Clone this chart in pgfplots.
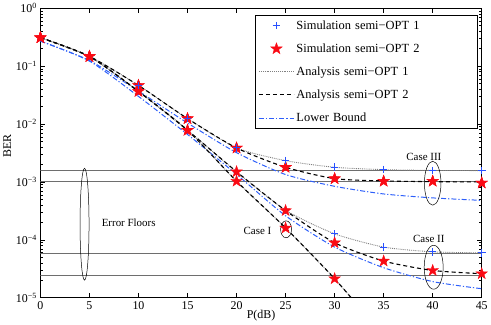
\documentclass[border=0pt]{standalone}
\usepackage{pgfplots}
\pgfplotsset{compat=1.18}
\usepackage{fontspec}
\setmainfont{Liberation Serif}

\definecolor{simblue}{RGB}{40,80,255}
\definecolor{lbblue}{RGB}{45,95,250}
\definecolor{simred}{RGB}{250,10,20}
\definecolor{floorgray}{RGB}{110,110,110}

\pgfdeclareplotmark{pstar}{%
  \pgfpathmoveto{\pgfpointpolar{90}{1.5\pgfplotmarksize}}%
  \pgfpathlineto{\pgfpointpolar{126}{0.6\pgfplotmarksize}}%
  \pgfpathlineto{\pgfpointpolar{162}{1.5\pgfplotmarksize}}%
  \pgfpathlineto{\pgfpointpolar{198}{0.6\pgfplotmarksize}}%
  \pgfpathlineto{\pgfpointpolar{234}{1.5\pgfplotmarksize}}%
  \pgfpathlineto{\pgfpointpolar{270}{0.6\pgfplotmarksize}}%
  \pgfpathlineto{\pgfpointpolar{306}{1.5\pgfplotmarksize}}%
  \pgfpathlineto{\pgfpointpolar{342}{0.6\pgfplotmarksize}}%
  \pgfpathlineto{\pgfpointpolar{18}{1.5\pgfplotmarksize}}%
  \pgfpathlineto{\pgfpointpolar{54}{0.6\pgfplotmarksize}}%
  \pgfpathclose
  \pgfusepathqfillstroke
}

\pgfplotsset{
  lineleg/.style={legend image code/.code={\draw[##1] (0bp,0bp) -- (35bp,0bp);}},
  markleg/.style={legend image code/.code={\path[draw=none] (0bp,0bp) (35bp,0bp);
      \draw[##1,#1] plot coordinates {(17.5bp,0bp)};}},
}

\begin{document}
\begin{tikzpicture}
\begin{axis}[
  scale only axis,
  width=442bp, height=290bp,
  ymode=log,
  xmin=0, xmax=45, ymin=1e-5, ymax=1,
  xtick={0,5,...,45},
  ytick={1e-5,1e-4,1e-3,1e-2,1e-1,1},
  yticklabels={10\textsuperscript{−5},10\textsuperscript{−4},10\textsuperscript{−3},10\textsuperscript{−2},10\textsuperscript{−1},10\textsuperscript{0}},
  minor ytick={2e-5,3e-5,4e-5,5e-5,6e-5,7e-5,8e-5,9e-5,
               2e-4,3e-4,4e-4,5e-4,6e-4,7e-4,8e-4,9e-4,
               2e-3,3e-3,4e-3,5e-3,6e-3,7e-3,8e-3,9e-3,
               2e-2,3e-2,4e-2,5e-2,6e-2,7e-2,8e-2,9e-2,
               0.2,0.3,0.4,0.5,0.6,0.7,0.8,0.9},
  tick align=inside,
  major tick length=5bp, minor tick length=2.5bp,
  axis line style={line width=0.6pt},
  every tick/.style={line width=0.5pt, black},
  /pgf/number format/assume math mode=true,
  tick label style={font=\fontsize{12}{14}\selectfont},
  xlabel={P(dB)}, ylabel={BER},
  label style={font=\fontsize{12}{14}\selectfont},
  xlabel style={yshift=6bp},
  ylabel style={at={(ticklabel cs:0.524)}, yshift=-2bp},
  legend style={at={(rel axis cs:0.9915,0.977)}, anchor=north east,
    font=\fontsize{12.5}{14}\selectfont, draw=black, line width=0.6pt,
    row sep=9bp, inner sep=3.5bp,
    nodes={text width=176bp, align=left, line width=0.6pt}},
  legend cell align=left,
]
% error floors
\addplot[floorgray, line width=0.9pt, forget plot] coordinates {(0,1.57e-3)(45,1.57e-3)};
\addplot[floorgray, line width=0.9pt, forget plot] coordinates {(0,1.0e-3)(45,1.0e-3)};
\addplot[floorgray, line width=0.9pt, forget plot] coordinates {(0,5.8e-5)(45,5.8e-5)};
\addplot[floorgray, line width=0.9pt, forget plot] coordinates {(0,2.4e-5)(45,2.4e-5)};

% legend entries (Case III curves)
\addplot[simblue, only marks, mark=+, mark size=3.8bp, line width=1pt, markleg=simblue]
  coordinates {(0,0.31)(5,0.147)(10,0.0464)(15,0.0124)(20,3.86e-3)(25,2.33e-3)(30,1.79e-3)(35,1.63e-3)(40,1.57e-3)(45,1.57e-3)};
\addlegendentry{Simulation semi−OPT 1}
\addplot[simred, only marks, mark=pstar, mark size=4bp, line width=0.4pt, markleg=simred]
  coordinates {(0,0.31)(5,0.147)(10,0.0464)(15,0.0124)(20,3.86e-3)(25,1.79e-3)(30,1.14e-3)(35,1.03e-3)(40,1.03e-3)(45,9.6e-4)};
\addlegendentry{Simulation semi−OPT 2}
\addplot[gray, densely dotted, line width=0.9pt, smooth, tension=0.4, lineleg]
  coordinates {(0,0.31)(5,0.147)(10,0.0464)(15,0.0124)(20,3.86e-3)(25,2.33e-3)(30,1.79e-3)(35,1.63e-3)(40,1.58e-3)(45,1.57e-3)};
\addlegendentry{Analysis semi−OPT 1}
\addplot[black, dash pattern=on 4bp off 3bp, line width=1.1pt, smooth, tension=0.4, lineleg]
  coordinates {(0,0.31)(5,0.147)(10,0.0464)(15,0.0124)(20,3.86e-3)(25,1.79e-3)(30,1.14e-3)(35,1.04e-3)(40,1.01e-3)(45,1.0e-3)};
\addlegendentry{Analysis semi−OPT 2}
\addplot[lbblue, dash pattern=on 5bp off 2bp on 1.2bp off 2bp, line width=1pt, smooth, tension=0.4, lineleg]
  coordinates {(0,0.27)(5,0.125)(10,0.037)(15,0.0104)(20,3.2e-3)(25,1.34e-3)(30,8.4e-4)(35,6.2e-4)(40,5.3e-4)(45,4.8e-4)};
\addlegendentry{Lower Bound}

% Case II curves
\addplot[gray, densely dotted, line width=0.9pt, smooth, tension=0.4, forget plot]
  coordinates {(0,0.31)(5,0.147)(10,0.0366)(15,0.0078)(20,1.5e-3)(25,3.25e-4)(30,1.27e-4)(35,7.5e-5)(40,6.2e-5)(45,5.97e-5)};
\addplot[black, dash pattern=on 4bp off 3bp, line width=1.1pt, smooth, tension=0.4, forget plot]
  coordinates {(0,0.31)(5,0.147)(10,0.0366)(15,0.0078)(20,1.5e-3)(25,3.2e-4)(30,8.9e-5)(35,4.3e-5)(40,2.96e-5)(45,2.6e-5)};
\addplot[lbblue, dash pattern=on 5bp off 2bp on 1.2bp off 2bp, line width=1pt, smooth, tension=0.4, forget plot]
  coordinates {(0,0.27)(5,0.122)(10,0.030)(15,0.0066)(20,1.35e-3)(25,2.6e-4)(30,7.5e-5)(35,3.3e-5)(40,1.9e-5)(45,1.43e-5)};
% Case I curves
\addplot[gray, densely dotted, line width=0.9pt, smooth, tension=0.4, forget plot]
  coordinates {(0,0.31)(5,0.147)(10,0.0366)(15,0.0078)(20,1.03e-3)(25,1.6e-4)(30,2.13e-5)(35,2.2e-6)};
\addplot[black, dash pattern=on 4bp off 3bp, line width=1.1pt, smooth, tension=0.4, forget plot]
  coordinates {(0,0.31)(5,0.147)(10,0.0366)(15,0.0078)(20,1.03e-3)(25,1.6e-4)(30,2.13e-5)(35,2.2e-6)};

% Case II marks
\addplot[simblue, only marks, mark=+, mark size=3.8bp, line width=1pt, forget plot]
  coordinates {(0,0.31)(5,0.147)(10,0.0366)(15,0.0078)(20,1.5e-3)(25,3.25e-4)(30,1.27e-4)(35,7.5e-5)(40,6.2e-5)(45,5.97e-5)};
\addplot[simred, only marks, mark=pstar, mark size=4bp, line width=0.4pt, forget plot]
  coordinates {(0,0.31)(5,0.147)(10,0.0366)(15,0.0078)(20,1.5e-3)(25,3.2e-4)(30,8.9e-5)(35,4.3e-5)(40,2.96e-5)(45,2.6e-5)};
% Case I marks
\addplot[simred, only marks, mark=pstar, mark size=4bp, line width=0.4pt, forget plot]
  coordinates {(0,0.31)(5,0.147)(10,0.0366)(15,0.0078)(20,1.03e-3)(25,1.6e-4)(30,2.13e-5)};
% Case III marks redrawn on top
\addplot[simred, only marks, mark=pstar, mark size=4bp, line width=0.4pt, forget plot]
  coordinates {(0,0.31)(5,0.147)(10,0.0464)(15,0.0124)(20,3.86e-3)(25,1.79e-3)(30,1.14e-3)(35,1.03e-3)(40,1.03e-3)(45,9.6e-4)};
\addplot[simblue, only marks, mark=+, mark size=3.8bp, line width=1pt, forget plot]
  coordinates {(10,0.0464)(15,0.0124)(20,3.86e-3)(25,2.33e-3)(30,1.79e-3)(35,1.63e-3)(40,1.57e-3)(45,1.57e-3)};

% annotations
\draw[line width=0.5pt] (axis cs:4.5,1.86e-4) ellipse [x radius=4.5bp, y radius=56bp];
\node[anchor=west, font=\fontsize{11}{13}\selectfont] at (axis cs:5.9,2.0e-4) {Error Floors};
\draw[line width=0.5pt] (axis cs:25.05,1.52e-4) ellipse [x radius=5.5bp, y radius=8.5bp];
\node[anchor=east, font=\fontsize{11}{13}\selectfont] at (axis cs:23.9,1.45e-4) {Case I};
\draw[line width=0.5pt] (axis cs:40.1,3.36e-5) ellipse [x radius=9.5bp, y radius=22bp];
\node[font=\fontsize{11}{13}\selectfont] at (axis cs:39.6,1.05e-4) {Case II};
\draw[line width=0.5pt] (axis cs:40,9.5e-4) ellipse [x radius=8.3bp, y radius=22bp];
\node[font=\fontsize{11}{13}\selectfont] at (axis cs:39.1,2.66e-3) {Case III};
\end{axis}
\end{tikzpicture}
\end{document}
